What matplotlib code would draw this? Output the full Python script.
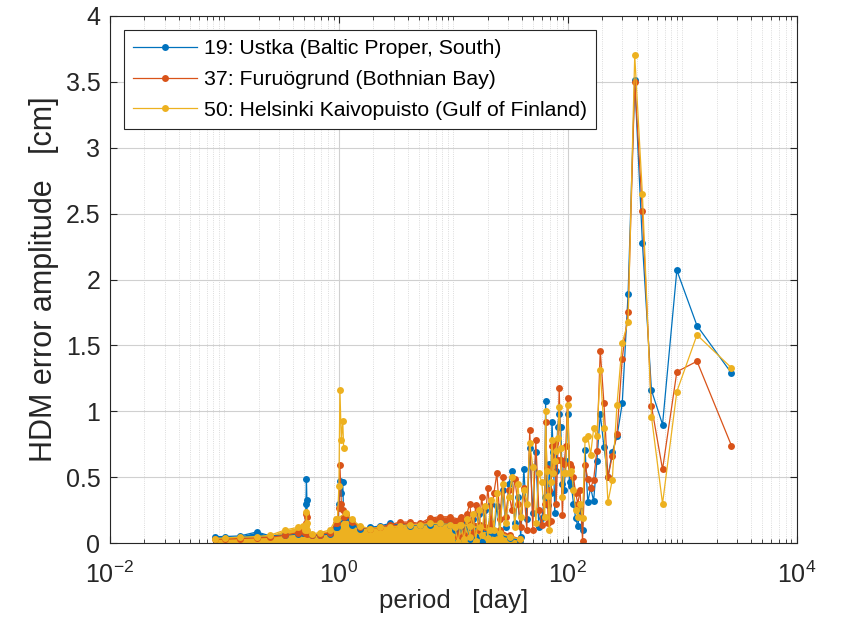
import math
import matplotlib
matplotlib.use('Agg')
import matplotlib.pyplot as plt
from matplotlib.ticker import LogLocator, FixedLocator, FuncFormatter, NullFormatter

plt.rcParams['font.family'] = ['Liberation Sans', 'DejaVu Sans']
plt.rcParams['mathtext.default'] = 'regular'

labels = ['19: Ustka (Baltic Proper, South)',
          '37: Furuögrund (Bothnian Bay)',
          '50: Helsinki Kaivopuisto (Gulf of Finland)']
colors = ['#0072BD', '#D95319', '#EDB120']

# dense low-amplitude floor at short periods (upper envelope), days / cm
band_period = [0.0826, 0.101, 0.137, 0.192, 0.250, 0.338, 0.439, 0.485, 0.581,
               0.683, 0.834, 0.942, 1.151, 1.299, 1.526, 1.865, 2.281, 2.789,
               3.410, 4.170, 5.098, 6.233, 7.622, 9.320, 11.40, 13.94, 17.03,
               20.84, 25.47, 31.14, 38.09]
band_ustka = [0.05, 0.05, 0.055, 0.085, 0.055, 0.06, 0.07, 0.08, 0.06, 0.06, 0.07,
              0.12, 0.20, 0.14, 0.11, 0.12, 0.13, 0.15, 0.14, 0.13, 0.14, 0.14,
              0.15, 0.14, 0.13, 0.12, 0.10, 0.08, 0.06, 0.04, 0.02]
band_furuo = [0.03, 0.03, 0.035, 0.04, 0.045, 0.06, 0.08, 0.09, 0.06, 0.065, 0.08,
              0.15, 0.22, 0.16, 0.12, 0.11, 0.12, 0.14, 0.16, 0.16, 0.15, 0.19,
              0.20, 0.20, 0.18, 0.16, 0.14, 0.12, 0.10, 0.06, 0.03]
band_helsinki = [0.035, 0.04, 0.045, 0.05, 0.06, 0.10, 0.12, 0.13, 0.07, 0.08, 0.10,
                 0.18, 0.23, 0.18, 0.13, 0.11, 0.12, 0.12, 0.13, 0.14, 0.14, 0.15,
                 0.15, 0.14, 0.14, 0.13, 0.12, 0.10, 0.08, 0.05, 0.03]

# semidiurnal peak
semi_period = [0.505, 0.515, 0.520, 0.525, 0.530]
semi_ustka = [0.09, 0.30, 0.49, 0.33, 0.08]
semi_furuo = [0.08, 0.15, 0.22, 0.20, 0.07]
semi_helsinki = [0.10, 0.13, 0.24, 0.15, 0.10]

# diurnal peak
diur_period = [0.97, 1.00, 1.02, 1.05, 1.08, 1.10]
diur_ustka = [0.12, 0.30, 0.47, 0.38, 0.465, 0.20]
diur_furuo = [0.15, 0.27, 0.59, 0.30, 0.25, 0.20]
diur_helsinki = [0.18, 0.43, 1.16, 0.78, 0.93, 0.72]

# longer periods
period = [10.3, 11.0, 11.6, 12.4, 13.1, 13.9, 14.8, 15.7, 16.7, 17.7, 18.8, 20.0,
          21.3, 22.6, 24.0, 25.5, 27.1, 28.7, 30.5, 32.4, 34.4, 36.6, 38.8, 41.3,
          43.8, 46.5, 49.4, 52.5, 55.8, 59.2, 62.9,
          64.0, 65.6, 67.3, 69.0, 70.8, 72.7, 74.7, 76.9, 79.1, 81.5, 84.1, 86.8,
          89.7, 92.8, 96.1, 99.6, 103.5, 107.6, 112.1, 117.0, 122.3, 128.1, 134.5,
          141.6, 149.4, 158.2, 168.1, 179.3, 192.1, 206.9, 224.2, 244.5, 269.0,
          298.9, 336.3, 384.3, 448.3, 538.0, 672.5, 896.7, 1345, 2690]
amp_ustka = [0.10, 0.02, 0.12, 0.04, 0.15, 0.03, 0.18, 0.05, 0.22, 0.01, 0.25, 0.06,
             0.30, 0.08, 0.28, 0.10, 0.40, 0.12, 0.45, 0.55, 0.15, 0.35, 0.05, 0.56,
             0.18, 0.72, 0.23, 0.69, 0.12, 0.19, 0.35,
             1.08, 0.34, 0.29, 0.60, 0.38, 0.92, 0.69, 0.23, 0.55, 0.88, 0.98, 0.88,
             0.45, 0.40, 0.62, 0.98, 0.465, 0.43, 0.30, 0.19, 0.13, 0.25, 0.10,
             0.71, 0.31, 0.42, 0.32, 0.62, 0.98, 0.73, 0.50, 0.69, 0.81,
             1.06, 1.89, 3.51, 2.28, 1.16, 0.90, 2.07, 1.65, 1.29]
amp_furuo = [0.16, 0.05, 0.20, 0.06, 0.22, 0.30, 0.08, 0.29, 0.10, 0.35, 0.12, 0.42,
             0.15, 0.38, 0.53, 0.18, 0.50, 0.20, 0.40, 0.25, 0.49, 0.30, 0.12, 0.42,
             0.10, 0.86, 0.10, 0.78, 0.25, 0.14, 0.30,
             0.92, 0.57, 0.15, 0.40, 0.17, 0.74, 0.53, 0.76, 0.30, 0.63, 1.18, 0.63,
             0.21, 0.60, 0.74, 1.10, 0.60, 0.58, 0.50, 0.38, 0.30, 0.40, 0.02,
             0.59, 0.49, 0.42, 0.48, 0.70, 1.46, 1.06, 0.50, 0.66, 0.83,
             1.40, 1.75, 3.50, 2.52, 1.04, 0.56, 1.30, 1.38, 0.74]
amp_helsinki = [0.12, 0.01, 0.14, 0.03, 0.18, 0.05, 0.22, 0.02, 0.25, 0.06, 0.28, 0.04,
                0.33, 0.10, 0.38, 0.05, 0.45, 0.15, 0.35, 0.50, 0.12, 0.45, 0.20, 0.40,
                0.30, 0.76, 0.58, 0.15, 0.53, 0.465, 0.20,
                1.00, 0.55, 0.36, 0.10, 0.465, 0.78, 0.53, 0.62, 0.70, 0.80, 1.03, 0.72,
                0.35, 0.53, 0.53, 1.05, 0.53, 0.55, 0.40, 0.25, 0.20, 0.30, 0.19,
                0.79, 0.81, 0.67, 0.87, 0.81, 1.31, 0.87, 0.31, 0.48, 1.05,
                1.52, 1.68, 3.70, 2.65, 0.96, 0.30, 1.15, 1.58, 1.33]

series = [
    (band_ustka, semi_ustka, diur_ustka, amp_ustka),
    (band_furuo, semi_furuo, diur_furuo, amp_furuo),
    (band_helsinki, semi_helsinki, diur_helsinki, amp_helsinki),
]

fig = plt.figure(figsize=(8.53, 6.36), dpi=100)
ax = fig.add_axes([0.129, 0.146, 0.805, 0.829])

sty = dict(lw=0.9, marker='o', ms=5, mew=0)
for (band, semi, diur, amp), c, lab in zip(series, colors, labels):
    ax.fill_between(band_period, 0, band, color=c, lw=0)
    ax.plot(band_period, band, color=c, **sty)
    ax.plot(semi_period, semi, color=c, **sty)
    ax.plot(diur_period, diur, color=c, **sty)
    ax.plot(period, amp, color=c, label=lab, **sty)

ax.set_xscale('log')
ax.set_xlim(1e-2, 1e4)
ax.set_ylim(0, 4)
ax.xaxis.set_major_locator(FixedLocator([1e-2, 1e0, 1e2, 1e4]))
ax.xaxis.set_minor_locator(LogLocator(base=10, subs=range(1, 10), numticks=20))
ax.xaxis.set_minor_formatter(NullFormatter())
ax.xaxis.set_major_formatter(FuncFormatter(lambda v, p: '$10^{%d}$' % round(math.log10(v))))
ax.set_yticks([0, 0.5, 1, 1.5, 2, 2.5, 3, 3.5, 4])
ax.yaxis.set_major_formatter(FuncFormatter(lambda v, p: '%g' % v))

ax.grid(True, which='major', color='#d0d0d0', lw=0.8)
ax.grid(True, which='minor', axis='x', color='#d0d0d0', lw=0.6, ls=':')
ax.set_axisbelow(True)
ax.tick_params(which='both', direction='in', top=True, right=True, colors='#262626',
               labelsize=18, length=5)
ax.tick_params(which='minor', length=3)
ax.tick_params(axis='x', pad=13)
ax.tick_params(axis='y', pad=7)
for s in ax.spines.values():
    s.set_color('#262626')
    s.set_linewidth(0.8)

ax.set_xlabel('period   [day]', fontsize=18.5, color='#262626', labelpad=1)
ax.set_ylabel('HDM error amplitude   [cm]', fontsize=22, color='#262626', labelpad=5)

leg = ax.legend(loc='upper left', fontsize=15.3, fancybox=False, framealpha=1,
                edgecolor='#262626', handlelength=3.0, handletextpad=0.3,
                labelspacing=0.55, borderaxespad=0.65, borderpad=0.45, numpoints=1)
leg.get_frame().set_linewidth(0.8)

fig.savefig('out.png', dpi=100)
